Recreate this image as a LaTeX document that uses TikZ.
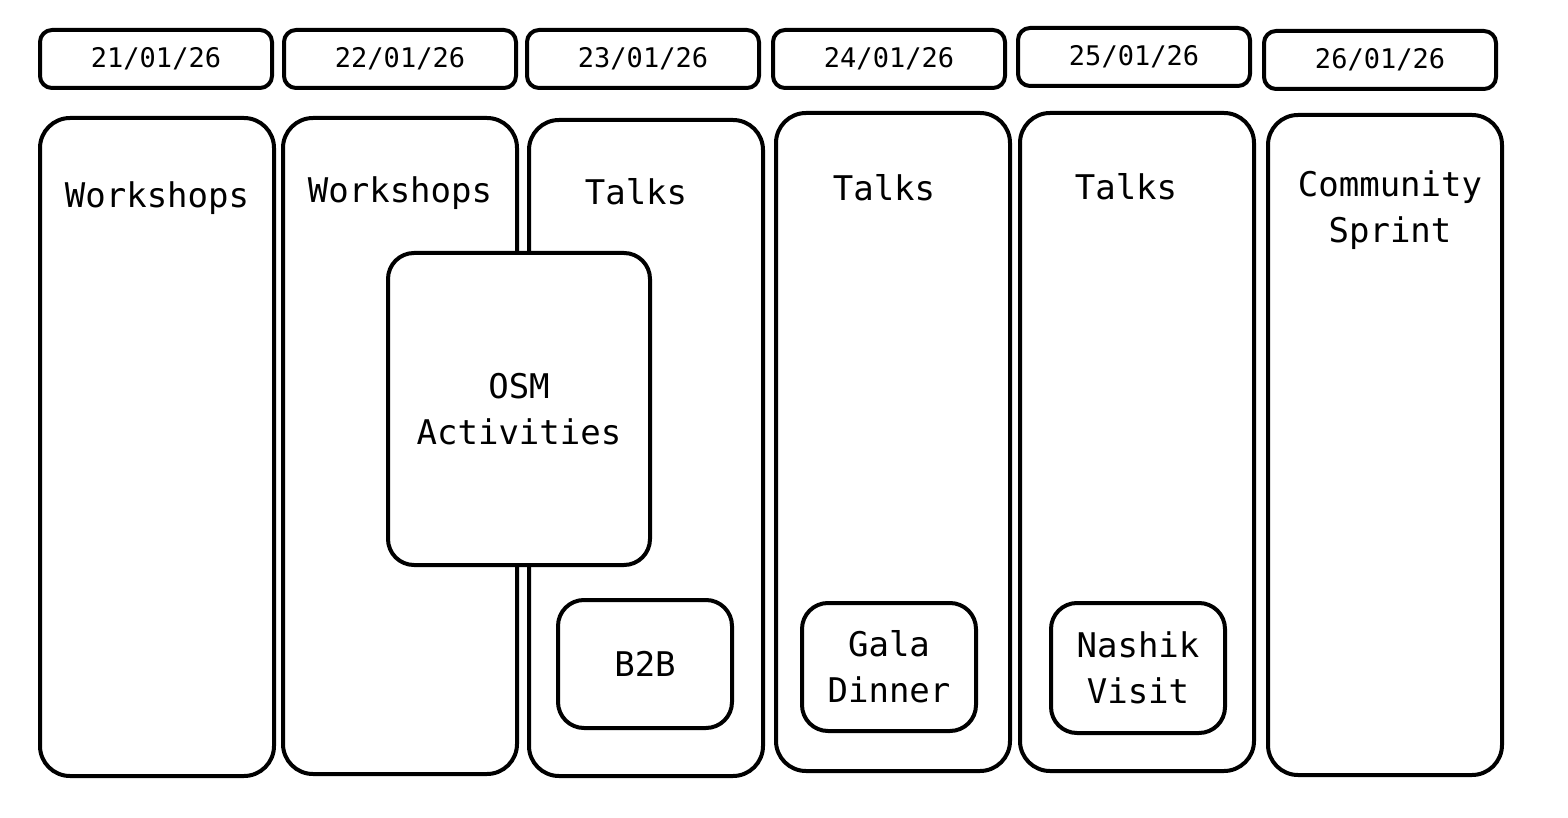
\documentclass[tikz,border=0pt]{standalone}
\usepackage{fontspec}
\setmonofont{DejaVu Sans Mono}
\tikzset{
	datebox/.style={draw,line width=2pt,rounded corners=6pt,minimum width=116pt,minimum height=29pt,inner sep=0pt,font=\ttfamily\fontsize{13.5}{16}\selectfont},
	daybox/.style={draw,line width=2pt,rounded corners=15pt,minimum width=117pt,inner sep=0pt},
	eventbox/.style={draw,fill=white,line width=2pt,rounded corners=13pt,inner sep=0pt,align=center,font=\ttfamily\fontsize{17}{23}\selectfont},
	daytitle/.style={align=center,font=\ttfamily\fontsize{17}{23}\selectfont}
}
\begin{document}
\begin{tikzpicture}[x=0.5pt,y=-0.5pt,line join=round,line cap=round]
	\useasboundingbox (0,0) rectangle (1568,818);
	% dates
	\foreach \n/\x/\y/\d in {1/156/59/21,2/400/59/22,3/643/59/23,4/889/59/24,5/1134/57/25,6/1380/60/26}
	\node[datebox] (date\n) at (\x,\y) {\d/01/26};
	% day columns
	\foreach \n/\x/\y/\h in {1/157/447/329,2/400/446/328,3/646/448/328,4/893/442/329,5/1137/442/329,6/1385/445/330}
	\node[daybox,minimum height=\h pt] (day\n) at (\x,\y) {};
	% titles
	\node[daytitle] (title1) at (157,198) {Workshops};
	\node[daytitle] (title2) at (400,193) {Workshops};
	\node[daytitle] (title3) at (636,192) {Talks};
	\node[daytitle] (title4) at (884,188) {Talks};
	\node[daytitle] (title5) at (1126,187) {Talks};
	\node[daytitle] (title6) at (1390,210) {Community\\Sprint};
	% events
	\node[eventbox,minimum width=131pt,minimum height=156pt] (osm) at (519,409) {OSM\\Activities};
	\node[eventbox,minimum width=87pt,minimum height=64pt] (b2b) at (645,664) {B2B};
	\node[eventbox,minimum width=87pt,minimum height=64pt] (gala) at (889,667) {Gala\\Dinner};
	\node[eventbox,minimum width=87pt,minimum height=65pt] (nashik) at (1138,668) {Nashik\\Visit};
\end{tikzpicture}
\end{document}
